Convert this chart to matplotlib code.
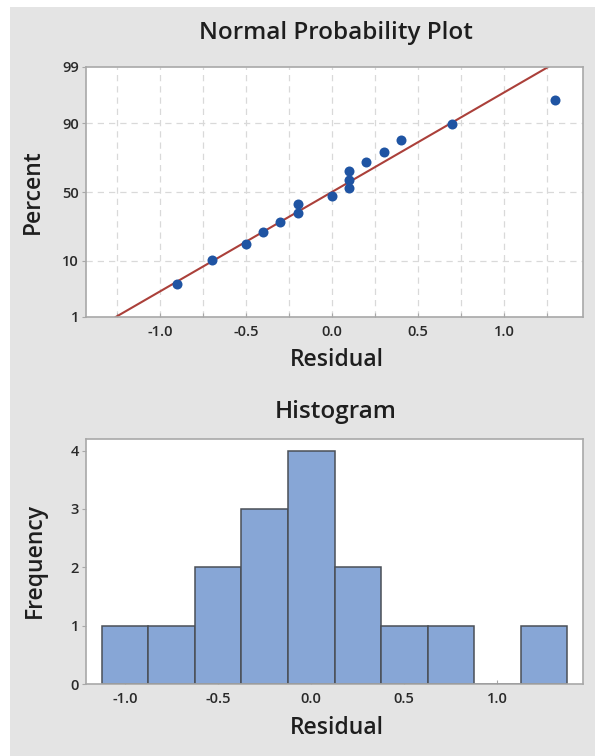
import numpy as np
import matplotlib
matplotlib.use("Agg")
import matplotlib.pyplot as plt
from matplotlib.patches import Rectangle
from statistics import NormalDist

plt.rcParams['font.family'] = ['Open Sans', 'DejaVu Sans']

# Residuals from the fitted model
residuals = [-0.9, -0.7, -0.5, -0.4, -0.3, -0.2, -0.2, 0.0,
             0.1, 0.1, 0.1, 0.2, 0.3, 0.4, 0.7, 1.3]

pct_ticks = [1, 10, 50, 90, 99]
x_ticks = [-1.0, -0.5, 0.0, 0.5, 1.0]
hist_edges = [-1.125, -0.875, -0.625, -0.375, -0.125, 0.125,
              0.375, 0.625, 0.875, 1.125, 1.375]
freq_ticks = [0, 1, 2, 3, 4]

BG = '#e4e4e4'
SPINE = '#a8a8a8'
TXT = '#1e1e1e'
DOT = '#1f54a3'
LINE = '#ab403a'
BAR = '#87a6d6'
BAR_EDGE = '#4a4f57'

nd = NormalDist()
res = np.sort(np.array(residuals))
n = len(res)
# median ranks
ranks = (np.arange(1, n + 1) - 0.3) / (n + 0.4)
z_pts = np.array([nd.inv_cdf(p) for p in ranks])

mu = res.mean()
sd = res.std(ddof=1)

W, H = 595, 756
fig = plt.figure(figsize=(W / 100, H / 100), dpi=100)
fig.patch.set_facecolor('white')
# grey panel behind both graphs
fig.patches.append(Rectangle((10 / W, 0), 1, 1 - 7 / H, transform=fig.transFigure,
                             facecolor=BG, edgecolor='none', zorder=-10))

def axes_px(l, t, r, b):
    return fig.add_axes([l / W, 1 - b / H, (r - l) / W, (b - t) / H])

TITLE_KW = dict(fontsize=17.5, fontweight='semibold', color=TXT)
LABEL_KW = dict(fontsize=16.5, fontweight='semibold', color=TXT)

# ---- Normal probability plot ----
ax1 = axes_px(86, 67, 583, 317)
ax1.set_facecolor('white')
zlo, zhi = nd.inv_cdf(0.01), nd.inv_cdf(0.99)
ax1.set_ylim(zlo, zhi)
ax1.set_xlim(-1.43, 1.46)

for gx in np.arange(-1.25, 1.26, 0.25):
    ax1.axvline(gx, color='#d9d9d9', lw=0.9, ls=(0, (5, 4)), zorder=0)
for p in [10, 50, 90]:
    ax1.axhline(nd.inv_cdf(p / 100), color='#d9d9d9', lw=0.9, ls=(0, (5, 4)), zorder=0)

# fitted normal line
zline = np.array([zlo, zhi])
ax1.plot(mu + sd * zline, zline, color=LINE, lw=1.5, zorder=2)
ax1.scatter(res, z_pts, s=52, color=DOT, zorder=3, linewidths=0)

ax1.set_yticks([nd.inv_cdf(p / 100) for p in pct_ticks])
ax1.set_yticklabels([str(p) for p in pct_ticks])
ax1.set_xticks(x_ticks)
ax1.set_xticklabels([f"{v:.1f}" for v in x_ticks])
ax1.set_xticks(np.arange(-1.25, 1.26, 0.25), minor=True)
fig.text(336 / W, 1 - 33 / H, 'Normal Probability Plot', ha='center', va='center', **TITLE_KW)
fig.text(337 / W, 1 - 360 / H, 'Residual', ha='center', va='center', **LABEL_KW)
fig.text(33 / W, 1 - 192 / H, 'Percent', ha='center', va='center', rotation=90, **LABEL_KW)

# ---- Histogram ----
ax2 = axes_px(86, 439, 583, 684)
ax2.set_facecolor('white')
ax2.hist(res, bins=hist_edges, color=BAR, edgecolor=BAR_EDGE, linewidth=1.1, zorder=2)
ax2.set_xlim(-1.21, 1.46)
ax2.set_ylim(0, 4.2)
ax2.set_yticks(freq_ticks)
ax2.set_xticks(x_ticks)
ax2.set_xticklabels([f"{v:.1f}" for v in x_ticks])
fig.text(336 / W, 1 - 412 / H, 'Histogram', ha='center', va='center', **TITLE_KW)
fig.text(337 / W, 1 - 728 / H, 'Residual', ha='center', va='center', **LABEL_KW)
fig.text(35 / W, 1 - 561 / H, 'Frequency', ha='center', va='center', rotation=90, **LABEL_KW)

for ax in (ax1, ax2):
    for s in ax.spines.values():
        s.set_color(SPINE)
        s.set_linewidth(1.2)
    ax.tick_params(axis='both', which='both', colors=SPINE, labelcolor='#2a2a2a',
                   labelsize=10.5, length=3, width=0.8)
    ax.tick_params(axis='x', which='both', direction='in', pad=6)
    ax.tick_params(axis='y', direction='out', length=3, pad=2)
    ax.tick_params(which='minor', length=3)
    for lab in ax.get_xticklabels() + ax.get_yticklabels():
        lab.set_fontweight('semibold')

fig.savefig('out.png', dpi=100, facecolor='white')
